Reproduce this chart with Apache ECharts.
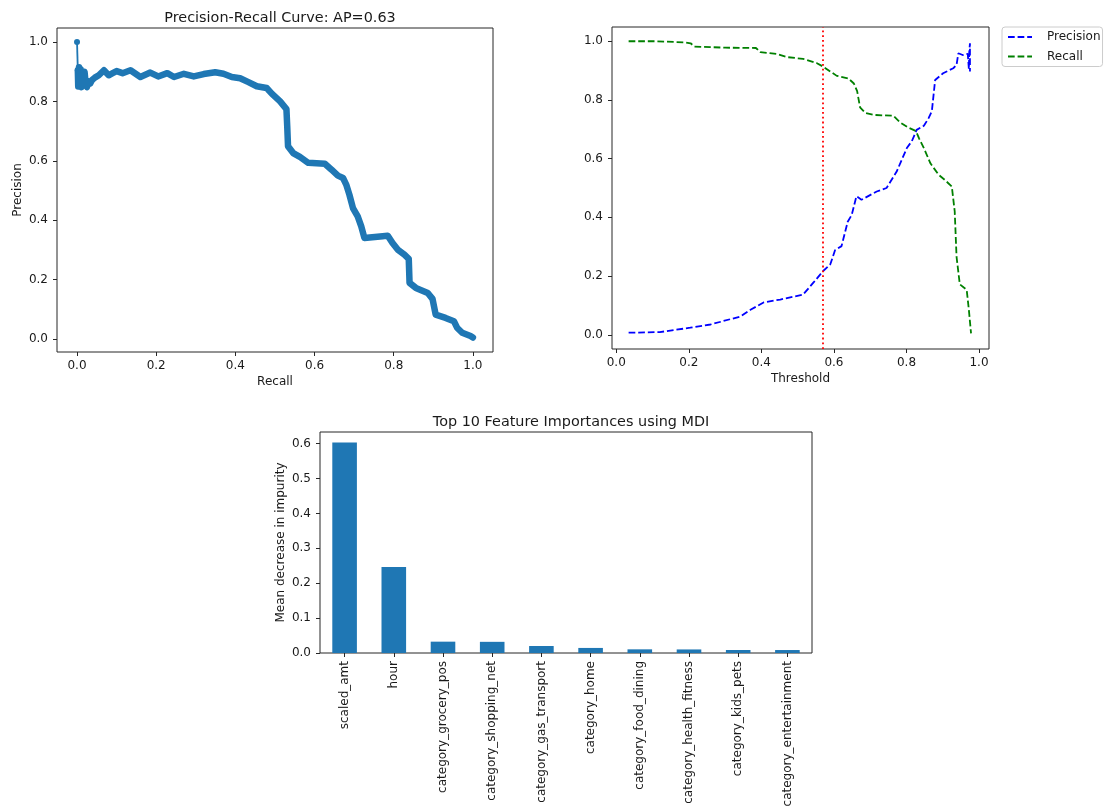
<!DOCTYPE html>
<html><head><meta charset="utf-8">
<script src="https://cdn.jsdelivr.net/npm/echarts@6/dist/echarts.min.js"></script>
<style>html,body{margin:0;padding:0;background:#fff}#c{width:1104px;height:810px}</style>
</head><body><div id="c"></div>
<script>
// ---- Precision-Recall curve (recall, precision) ----
const prRecall = [0.000,0.002,0.003,0.005,0.007,0.009,0.011,0.013,0.016,0.019,0.022,0.025,0.028,0.033,0.038,0.045,0.055,0.068,0.080,0.090,0.100,0.115,0.135,0.160,0.185,0.205,0.228,0.245,0.270,0.295,0.320,0.349,0.370,0.391,0.412,0.433,0.454,0.479,0.492,0.513,0.529,0.531,0.533,0.546,0.563,0.584,0.626,0.643,0.659,0.672,0.680,0.688,0.697,0.709,0.718,0.726,0.772,0.785,0.797,0.810,0.827,0.838,0.840,0.856,0.886,0.898,0.906,0.931,0.952,0.960,0.973,0.994,1.000];
const prPrecision = [1.000,0.905,0.850,0.915,0.860,0.908,0.848,0.895,0.870,0.900,0.858,0.848,0.868,0.860,0.872,0.880,0.888,0.905,0.888,0.895,0.902,0.895,0.905,0.882,0.897,0.884,0.895,0.882,0.893,0.884,0.892,0.898,0.893,0.882,0.878,0.865,0.851,0.845,0.826,0.800,0.774,0.716,0.649,0.626,0.613,0.593,0.590,0.570,0.550,0.542,0.520,0.486,0.441,0.413,0.379,0.340,0.346,0.348,0.323,0.301,0.284,0.270,0.189,0.172,0.155,0.135,0.082,0.071,0.060,0.038,0.021,0.010,0.005];
const apScore = '0.63';

// ---- Precision / Recall vs threshold ----
const precThreshold = [0.034,0.120,0.204,0.260,0.314,0.342,0.370,0.406,0.452,0.515,0.545,0.571,0.590,0.603,0.621,0.638,0.649,0.662,0.676,0.718,0.745,0.773,0.801,0.815,0.828,0.848,0.861,0.870,0.879,0.901,0.929,0.938,0.943,0.955,0.969,0.972,0.973,0.975,0.975];
const precValues    = [0.007,0.009,0.024,0.035,0.053,0.062,0.085,0.110,0.120,0.137,0.180,0.218,0.240,0.288,0.302,0.385,0.408,0.472,0.460,0.488,0.500,0.556,0.636,0.660,0.698,0.712,0.738,0.762,0.868,0.891,0.908,0.919,0.959,0.953,0.957,0.905,0.962,0.993,0.897];
const recThreshold = [0.034,0.110,0.190,0.205,0.215,0.300,0.385,0.397,0.445,0.470,0.515,0.552,0.571,0.590,0.608,0.640,0.655,0.664,0.672,0.686,0.710,0.764,0.782,0.805,0.826,0.835,0.848,0.866,0.888,0.906,0.925,0.933,0.938,0.947,0.966,0.972,0.978];
const recValues    = [1.000,1.000,0.996,0.993,0.982,0.978,0.977,0.963,0.956,0.946,0.940,0.926,0.913,0.897,0.882,0.873,0.856,0.830,0.775,0.756,0.749,0.746,0.724,0.706,0.694,0.668,0.636,0.584,0.546,0.527,0.505,0.420,0.266,0.172,0.153,0.085,0.005];
const bestThreshold = 0.57;

// ---- Feature importances ----
const features = ['scaled_amt','hour','category_grocery_pos','category_shopping_net','category_gas_transport','category_home','category_food_dining','category_health_fitness','category_kids_pets','category_entertainment'];
const importances = [0.6035,0.2465,0.0325,0.0320,0.0200,0.0145,0.0105,0.0102,0.0086,0.0085];

// ---- tick labels ----
const unitTicks = [0,0.2,0.4,0.6,0.8,1.0];
const impTicks = [0,0.1,0.2,0.3,0.4,0.5,0.6];

const FONT = 'DejaVu Sans';
const TXT = '#1a1a1a';
const FRAME = '#262626';

function pairs(xs, ys){ return xs.map((x,i)=>[x, ys[i]]); }

function valAxis(gridIndex, min, max, ticks, isY, name, nameGap){
  return {
    type:'value', gridIndex, min, max, scale:true,
    name, nameLocation:'middle', nameGap, nameRotate: isY ? 90 : 0,
    nameMoveOverlap:false,
    nameTextStyle:{fontSize:12, color:TXT, fontFamily:FONT},
    axisLine:{show:false, onZero:false},
    splitLine:{show:false},
    axisTick:{show:true, length:4, inside:false, customValues:ticks, lineStyle:{color:FRAME, width:1}},
    axisLabel:{show:true, customValues:ticks, formatter:v=>Number(v).toFixed(1), color:TXT, fontSize:12, fontFamily:FONT, margin: isY ? 9 : 8, hideOverlap:false}
  };
}

const gridBase = {show:true, borderColor:FRAME, borderWidth:1, backgroundColor:'transparent', containLabel:false, outerBoundsMode:'none'};

const option = {
  animation:false,
  backgroundColor:'#ffffff',
  textStyle:{fontFamily:FONT},
  title:[
    {text:'Precision-Recall Curve: AP=' + apScore, left:275, top:6, textAlign:'center',
     textStyle:{fontSize:14.4, fontWeight:'normal', color:TXT, fontFamily:FONT}},
    {text:'Top 10 Feature Importances using MDI', left:566, top:410, textAlign:'center',
     textStyle:{fontSize:14.4, fontWeight:'normal', color:TXT, fontFamily:FONT}}
  ],
  legend:{
    show:true, orient:'vertical', left:1002, top:27,
    data:['Precision','Recall'],
    itemWidth:24, itemHeight:12, itemGap:7.5,
    padding:[4,2,4,5],
    borderColor:'#cccccc', borderWidth:1, borderRadius:3,
    backgroundColor:'rgba(255,255,255,0.8)',
    itemStyle:{opacity:0},
    textStyle:{fontSize:12, color:TXT, fontFamily:FONT, padding:[0,0,0,10]},
    selectedMode:false
  },
  grid:[
    Object.assign({left:57, top:28, width:436, height:324}, gridBase),
    Object.assign({left:612, top:27, width:377, height:322}, gridBase),
    Object.assign({left:320, top:432, width:492, height:221}, gridBase)
  ],
  xAxis:[
    valAxis(0, -0.0506, 1.0508, unitTicks, false, 'Recall', 24),
    valAxis(1, -0.0118, 1.0275, unitTicks, false, 'Threshold', 24),
    {
      type:'category', gridIndex:2, data:features, boundaryGap:true,
      axisLine:{show:false, onZero:false},
      axisTick:{show:true, alignWithLabel:true, length:4, lineStyle:{color:FRAME, width:1}},
      axisLabel:{show:true, interval:0, rotate:90, margin:8, color:TXT, fontSize:12, fontFamily:FONT, hideOverlap:false},
      splitLine:{show:false}
    }
  ],
  yAxis:[
    valAxis(0, -0.0438, 1.0471, unitTicks, true, 'Precision', 33),
    valAxis(1, -0.0485, 1.0485, unitTicks, true, '', 33),
    valAxis(2, 0, 0.6334, impTicks, true, 'Mean decrease in impurity', 33)
  ],
  series:[
    {
      name:'PR start', type:'line', xAxisIndex:0, yAxisIndex:0,
      data: pairs(prRecall.slice(0,2), prPrecision.slice(0,2)),
      symbol:'circle', symbolSize:6, showSymbol:true,
      itemStyle:{color:'#1f77b4'},
      lineStyle:{color:'#1f77b4', width:1.8},
      z:3, silent:true
    },
    {
      name:'PR curve', type:'line', xAxisIndex:0, yAxisIndex:0,
      data: pairs(prRecall.slice(1), prPrecision.slice(1)),
      symbol:'none', showSymbol:false,
      lineStyle:{color:'#1f77b4', width:6.5, cap:'round', join:'round'},
      z:3, silent:true
    },
    {
      name:'Precision', type:'line', xAxisIndex:1, yAxisIndex:1,
      data: pairs(precThreshold, precValues),
      symbol:'none', showSymbol:false,
      itemStyle:{color:'#0000ff'},
      lineStyle:{color:'#0000ff', width:1.8, type:[6.7,2.9]},
      silent:true,
      markLine:{
        symbol:['none','none'], silent:true, animation:false,
        label:{show:false},
        lineStyle:{color:'#ff0000', width:1.8, type:[1.8,3]},
        data:[{xAxis:bestThreshold}]
      }
    },
    {
      name:'Recall', type:'line', xAxisIndex:1, yAxisIndex:1,
      data: pairs(recThreshold, recValues),
      symbol:'none', showSymbol:false,
      itemStyle:{color:'#008000'},
      lineStyle:{color:'#008000', width:1.8, type:[6.7,2.9]},
      silent:true
    },
    {
      name:'Importance', type:'bar', xAxisIndex:2, yAxisIndex:2,
      data: importances, barWidth:'50%',
      itemStyle:{color:'#1f77b4'},
      silent:true
    }
  ]
};

const chart = echarts.init(document.getElementById('c'), null, {renderer:'canvas'});
chart.setOption(option);
</script>
</body></html>
